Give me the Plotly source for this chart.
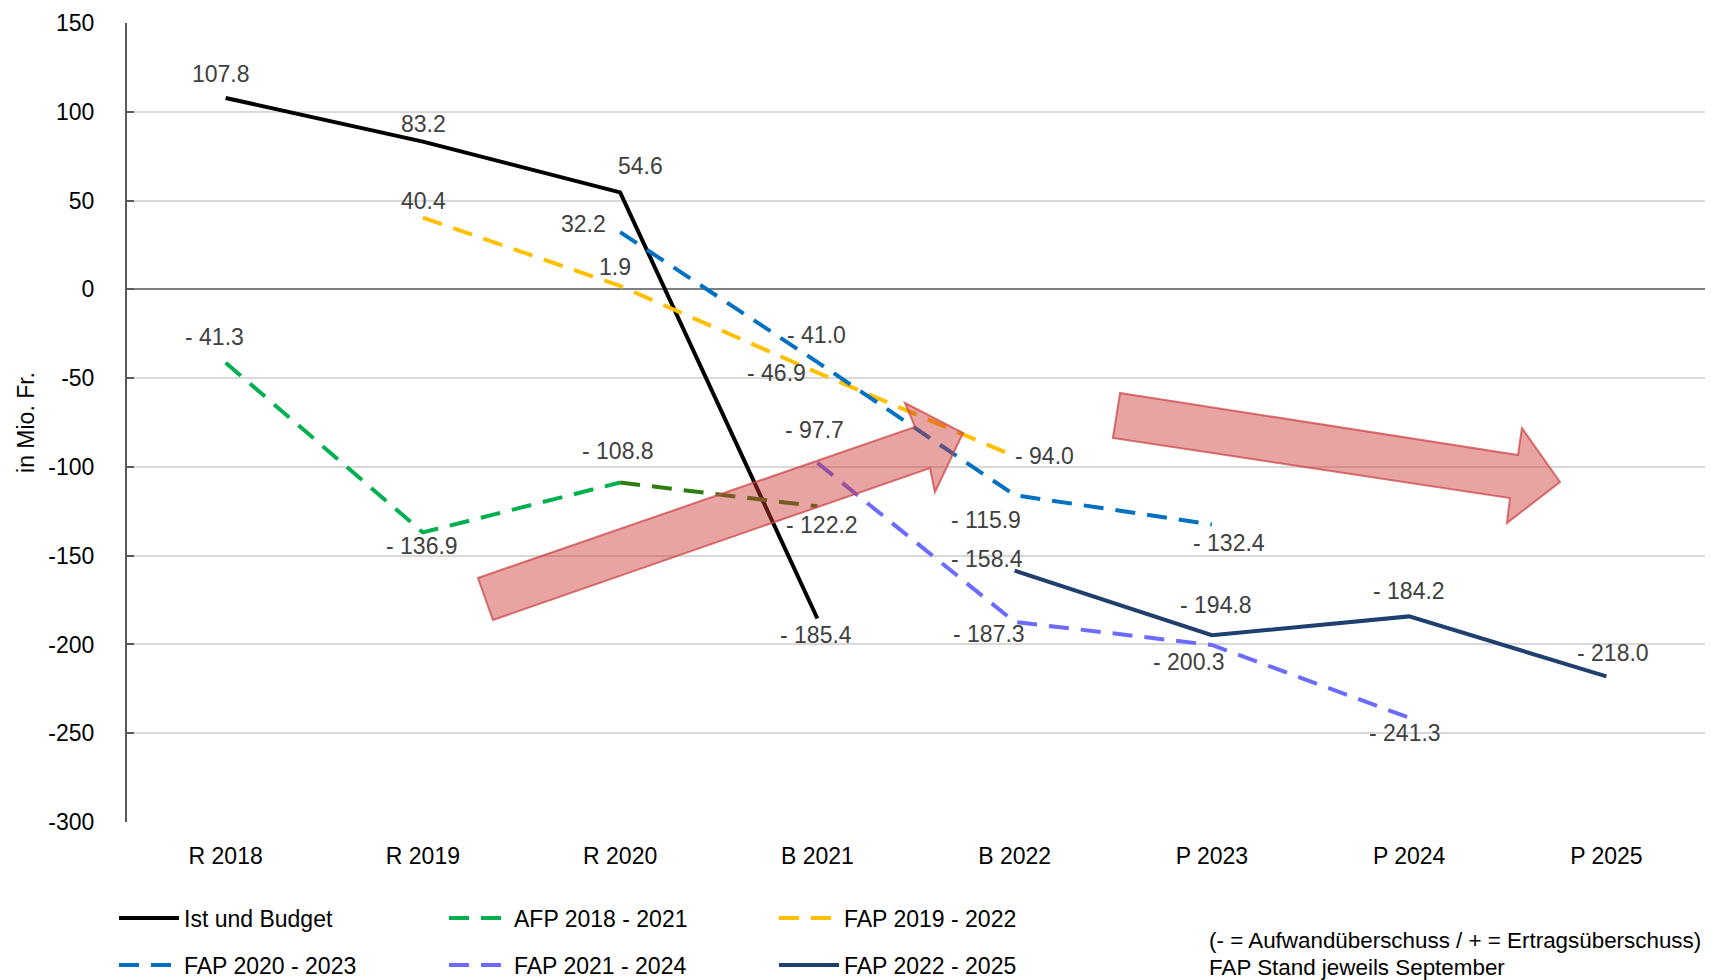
import plotly.graph_objects as go

# ---------------- data ----------------
categories = ["R 2018", "R 2019", "R 2020", "B 2021", "B 2022", "P 2023", "P 2024", "P 2025"]

ist_x = ["R 2018", "R 2019", "R 2020", "B 2021"]
ist_y = [107.8, 83.2, 54.6, -185.4]

afp1821_x = ["R 2018", "R 2019", "R 2020", "B 2021"]
afp1821_y = [-41.3, -136.9, -108.8, -122.2]

fap1922_x = ["R 2019", "R 2020", "B 2021", "B 2022"]
fap1922_y = [40.4, 1.9, -46.9, -94.0]

fap2023_x = ["R 2020", "B 2021", "B 2022", "P 2023"]
fap2023_y = [32.2, -41.0, -115.9, -132.4]

fap2124_x = ["B 2021", "B 2022", "P 2023", "P 2024"]
fap2124_y = [-97.7, -187.3, -200.3, -241.3]

fap2225_x = ["B 2022", "P 2023", "P 2024", "P 2025"]
fap2225_y = [-158.4, -194.8, -184.2, -218.0]

y_ticks = [150, 100, 50, 0, -50, -100, -150, -200, -250, -300]
y_ticktext = [str(v) for v in y_ticks]

# ---------------- style ----------------
FONT = "Liberation Sans"
FS = 23
W, H = 1711, 980
ML, MR, MT, MB = 127, 6, 23, 158
PW, PH = W - ML - MR, H - MT - MB
DASH = "20px,12px"

series = [
    dict(name="Ist und Budget", x=ist_x, y=ist_y, color="#000000", dash="solid", legend="legend",
         off=[(-5, -24), (1, -18), (20, -26), (-1, 16)]),
    dict(name="AFP 2018 - 2021", x=afp1821_x, y=afp1821_y, color="#00B050", dash=DASH, legend="legend",
         off=[(-11, -26), (-1, 14), (-2, -32), (5, 19)]),
    dict(name="FAP 2019 - 2022", x=fap1922_x, y=fap1922_y, color="#FFC000", dash=DASH, legend="legend",
         off=[(1, -17), (-5, -19), (-41, 0), (30, 0)]),
    dict(name="FAP 2020 - 2023", x=fap2023_x, y=fap2023_y, color="#0070C0", dash=DASH, legend="legend2",
         off=[(-37, -8), (-1, -27), (-29, 25), (17, 19)]),
    dict(name="FAP 2021 - 2024", x=fap2124_x, y=fap2124_y, color="#6B6BFF", dash=DASH, legend="legend2",
         off=[(-3, -33), (-26, 12), (-23, 17), (-4, 15)]),
    dict(name="FAP 2022 - 2025", x=fap2225_x, y=fap2225_y, color="#1F3F6E", dash="solid", legend="legend2",
         off=[(-28, -12), (4, -30), (0, -25), (7, -23)]),
]


def fmt(v):
    return f"- {abs(v):.1f}" if v < 0 else f"{v:.1f}"


fig = go.Figure()
annotations = []
for s in series:
    if s["name"].startswith("AFP"):
        fig.add_trace(go.Scatter(x=s["x"][:3], y=s["y"][:3], mode="lines", name=s["name"],
                                 legend=s["legend"],
                                 line=dict(color=s["color"], width=4, dash=s["dash"])))
        fig.add_trace(go.Scatter(x=s["x"][2:], y=s["y"][2:], mode="lines", showlegend=False,
                                 line=dict(color="#2E7D12", width=4, dash=s["dash"])))
    else:
        fig.add_trace(go.Scatter(x=s["x"], y=s["y"], mode="lines", name=s["name"],
                                 legend=s["legend"],
                                 line=dict(color=s["color"], width=4, dash=s["dash"])))
    for xv, yv, (dx, dy) in zip(s["x"], s["y"], s["off"]):
        annotations.append(dict(x=xv, y=yv, xref="x", yref="y", text=fmt(yv), showarrow=False,
                                xshift=dx, yshift=-dy,
                                font=dict(family=FONT, size=FS, color="#404040")))


def to_paper(pts):
    return [((px - ML) / PW, (MT + PH - py) / PH) for px, py in pts]


def path_of(pts):
    p = to_paper(pts)
    return "M " + " L ".join(f"{x:.4f},{y:.4f}" for x, y in p) + " Z"


arrow_up = [(478, 578), (915, 427), (905, 403), (963, 433), (935, 492), (930, 468), (493, 620)]
arrow_down = [(1120, 393), (1518, 455), (1522, 428), (1560, 482), (1507, 523), (1510, 498), (1113, 438)]

shapes = []
for pts in (arrow_up, arrow_down):
    shapes.append(dict(type="path", xref="paper", yref="paper", path=path_of(pts),
                       fillcolor="rgba(204,51,51,0.45)", line=dict(color="rgba(205,70,70,0.75)", width=2),
                       layer="above"))

annotations.append(dict(xref="paper", yref="paper", x=(1207 - ML) / PW, y=(MT + PH - 940) / PH,
                        xanchor="left", yanchor="middle", showarrow=False, align="left",
                        text="(- = Aufwandüberschuss / + = Ertragsüberschuss)",
                        font=dict(family=FONT, size=22.4, color="#000000")))
annotations.append(dict(xref="paper", yref="paper", x=(1207 - ML) / PW, y=(MT + PH - 967) / PH,
                        xanchor="left", yanchor="middle", showarrow=False, align="left",
                        text="FAP Stand jeweils September",
                        font=dict(family=FONT, size=22.4, color="#000000")))

legend_common = dict(orientation="h", xanchor="left", yanchor="middle", entrywidth=255,
                     entrywidthmode="pixels", itemwidth=60, bgcolor="rgba(0,0,0,0)",
                     font=dict(family=FONT, size=FS, color="#000000"), tracegroupgap=0)

fig.update_layout(
    width=W, height=H,
    margin=dict(l=ML, r=MR, t=MT, b=MB, autoexpand=False),
    paper_bgcolor="white", plot_bgcolor="white",
    font=dict(family=FONT, size=FS, color="#000000"),
    showlegend=True,
    legend=dict(x=(114 - ML) / PW, y=(MT + PH - 918) / PH, **legend_common),
    legend2=dict(x=(114 - ML) / PW, y=(MT + PH - 965) / PH, **legend_common),
    annotations=annotations,
    shapes=shapes,
    xaxis=dict(type="category", categoryorder="array", categoryarray=categories,
               range=[-0.5, len(categories) - 0.5], showgrid=False, showline=False,
               zeroline=False, ticks="", ticklabelstandoff=18, automargin=False,
               tickfont=dict(family=FONT, size=FS, color="#000000")),
    yaxis=dict(range=[-300, 150], tickvals=y_ticks, ticktext=y_ticktext,
               showgrid=True, gridcolor="#D9D9D9", gridwidth=1.5,
               zeroline=True, zerolinecolor="#808080", zerolinewidth=2,
               showline=True, linecolor="#595959", linewidth=2,
               ticks="inside", ticklen=7, tickcolor="#595959", tickwidth=1.5,
               ticklabelstandoff=26, automargin=False,
               tickfont=dict(family=FONT, size=FS, color="#000000"),
               title=dict(text="in Mio. Fr.", standoff=7, font=dict(family=FONT, size=FS, color="#000000"))),
)

fig.write_html("out.html", config={"displayModeBar": False},
               post_script="document.body.style.margin='0';document.body.style.overflow='hidden';")
